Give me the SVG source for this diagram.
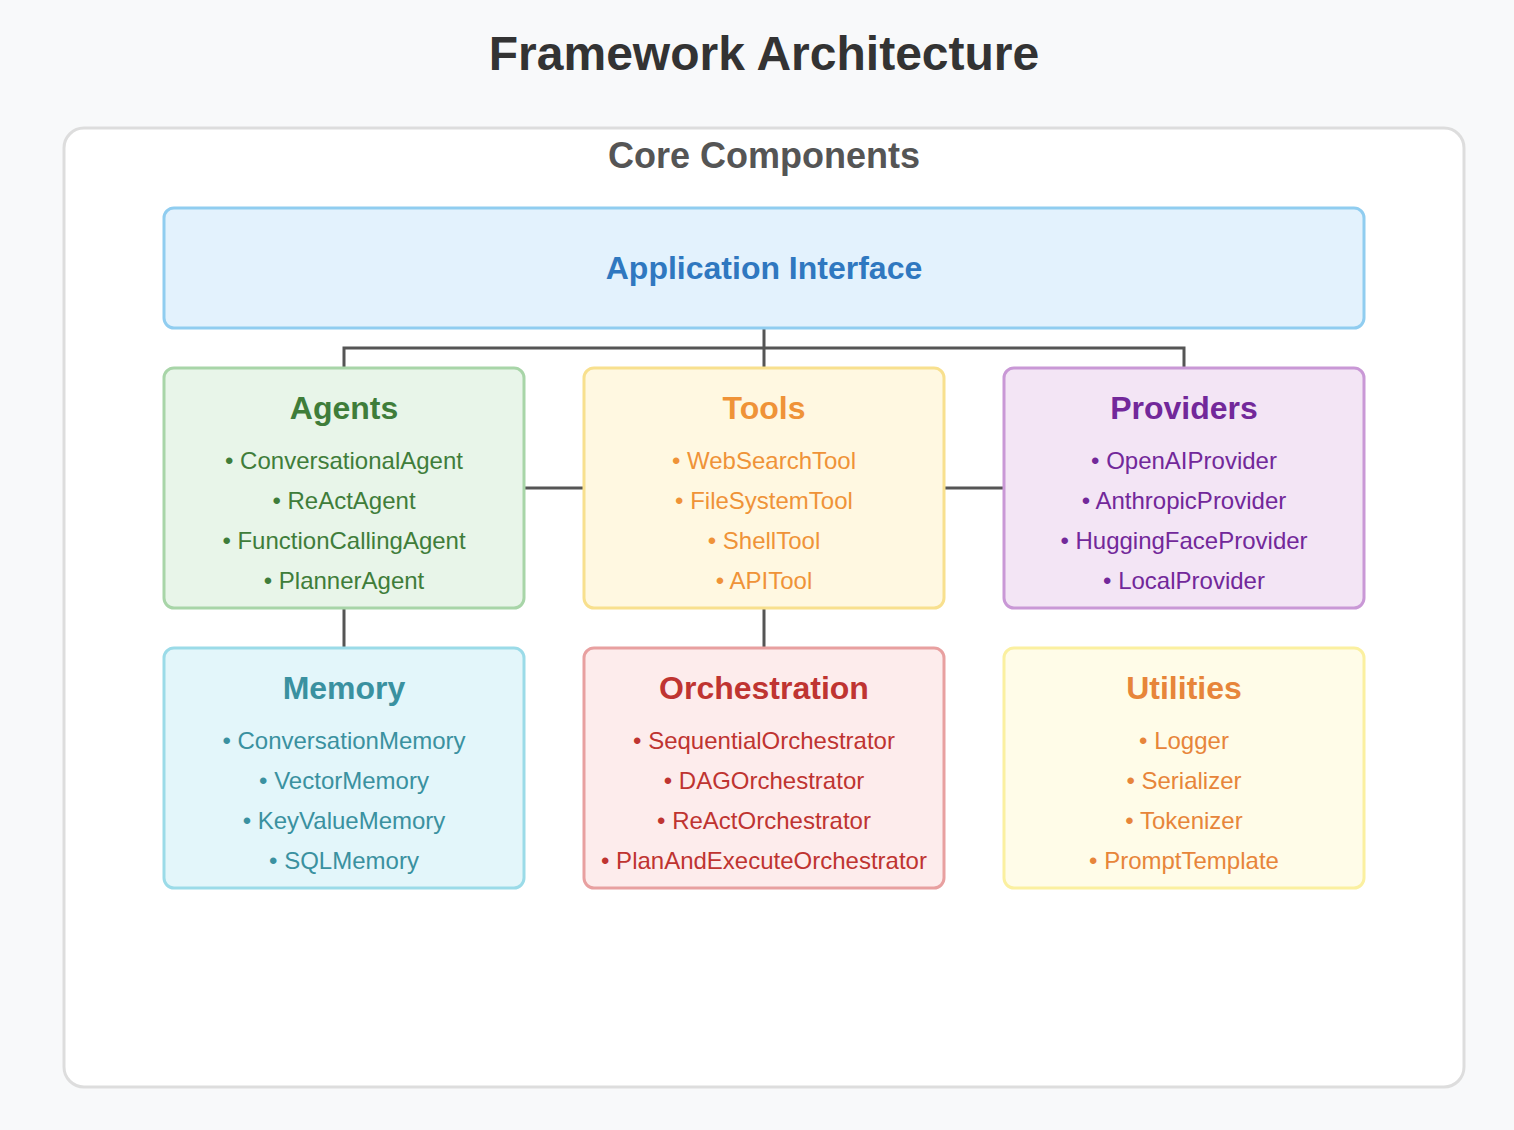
<svg xmlns="http://www.w3.org/2000/svg" width="1514" height="1130" viewBox="0 0 1514 1130">
<style>
text{font-family:"Liberation Sans",Arial,Helvetica,sans-serif;text-anchor:middle}
.t{font-size:32px;font-weight:bold}
.i{font-size:24px}
.box{stroke-width:3}
.conn{stroke:#555;stroke-width:3;fill:none}
</style>
<rect x="0" y="0" width="1514" height="1130" fill="#f8f9fa"/>
<text x="764" y="70" font-size="48" font-weight="bold" fill="#333">Framework Architecture</text>
<g id="container">
<rect x="64" y="128" width="1400" height="959" rx="20" fill="#fff" stroke="#dddddd" stroke-width="3"/>
<text x="764" y="168" font-size="36" font-weight="bold" fill="#555">Core Components</text>
</g>
<g id="connectors">
<path class="conn" d="M764 328V348M344 368V348H1184V368M764 348V368"/>
<path class="conn" d="M524 488H584M944 488H1004"/>
<path class="conn" d="M344 608V648M764 608V648"/>
</g>
<g id="app">
<rect class="box" x="164" y="208" width="1200" height="120" rx="10" fill="#e3f2fd" stroke="#90cdf0"/>
<text class="t" x="764" y="279" fill="#2f78c0">Application Interface</text>
</g>
<g id="agents" fill="#3f7d3a">
<rect class="box" x="164" y="368" width="360" height="240" rx="10" fill="#e8f5e9" stroke="#a8d5a8"/>
<text class="t" x="344" y="419">Agents</text>
<text class="i" x="344" y="469">• ConversationalAgent</text>
<text class="i" x="344" y="509">• ReActAgent</text>
<text class="i" x="344" y="549">• FunctionCallingAgent</text>
<text class="i" x="344" y="589">• PlannerAgent</text>
</g>
<g id="tools" fill="#ef9338">
<rect class="box" x="584" y="368" width="360" height="240" rx="10" fill="#fff8e1" stroke="#f8e08e"/>
<text class="t" x="764" y="419">Tools</text>
<text class="i" x="764" y="469">• WebSearchTool</text>
<text class="i" x="764" y="509">• FileSystemTool</text>
<text class="i" x="764" y="549">• ShellTool</text>
<text class="i" x="764" y="589">• APITool</text>
</g>
<g id="providers" fill="#72289a">
<rect class="box" x="1004" y="368" width="360" height="240" rx="10" fill="#f3e5f5" stroke="#c998d6"/>
<text class="t" x="1184" y="419">Providers</text>
<text class="i" x="1184" y="469">• OpenAIProvider</text>
<text class="i" x="1184" y="509">• AnthropicProvider</text>
<text class="i" x="1184" y="549">• HuggingFaceProvider</text>
<text class="i" x="1184" y="589">• LocalProvider</text>
</g>
<g id="memory" fill="#3a91a0">
<rect class="box" x="164" y="648" width="360" height="240" rx="10" fill="#e3f6fa" stroke="#9bdbe8"/>
<text class="t" x="344" y="699">Memory</text>
<text class="i" x="344" y="749">• ConversationMemory</text>
<text class="i" x="344" y="789">• VectorMemory</text>
<text class="i" x="344" y="829">• KeyValueMemory</text>
<text class="i" x="344" y="869">• SQLMemory</text>
</g>
<g id="orchestration" fill="#bf3431">
<rect class="box" x="584" y="648" width="360" height="240" rx="10" fill="#fdecec" stroke="#e8a0a0"/>
<text class="t" x="764" y="699">Orchestration</text>
<text class="i" x="764" y="749">• SequentialOrchestrator</text>
<text class="i" x="764" y="789">• DAGOrchestrator</text>
<text class="i" x="764" y="829">• ReActOrchestrator</text>
<text class="i" x="764" y="869">• PlanAndExecuteOrchestrator</text>
</g>
<g id="utilities" fill="#e7853a">
<rect class="box" x="1004" y="648" width="360" height="240" rx="10" fill="#fffce8" stroke="#fbf0a0"/>
<text class="t" x="1184" y="699">Utilities</text>
<text class="i" x="1184" y="749">• Logger</text>
<text class="i" x="1184" y="789">• Serializer</text>
<text class="i" x="1184" y="829">• Tokenizer</text>
<text class="i" x="1184" y="869">• PromptTemplate</text>
</g>
</svg>
